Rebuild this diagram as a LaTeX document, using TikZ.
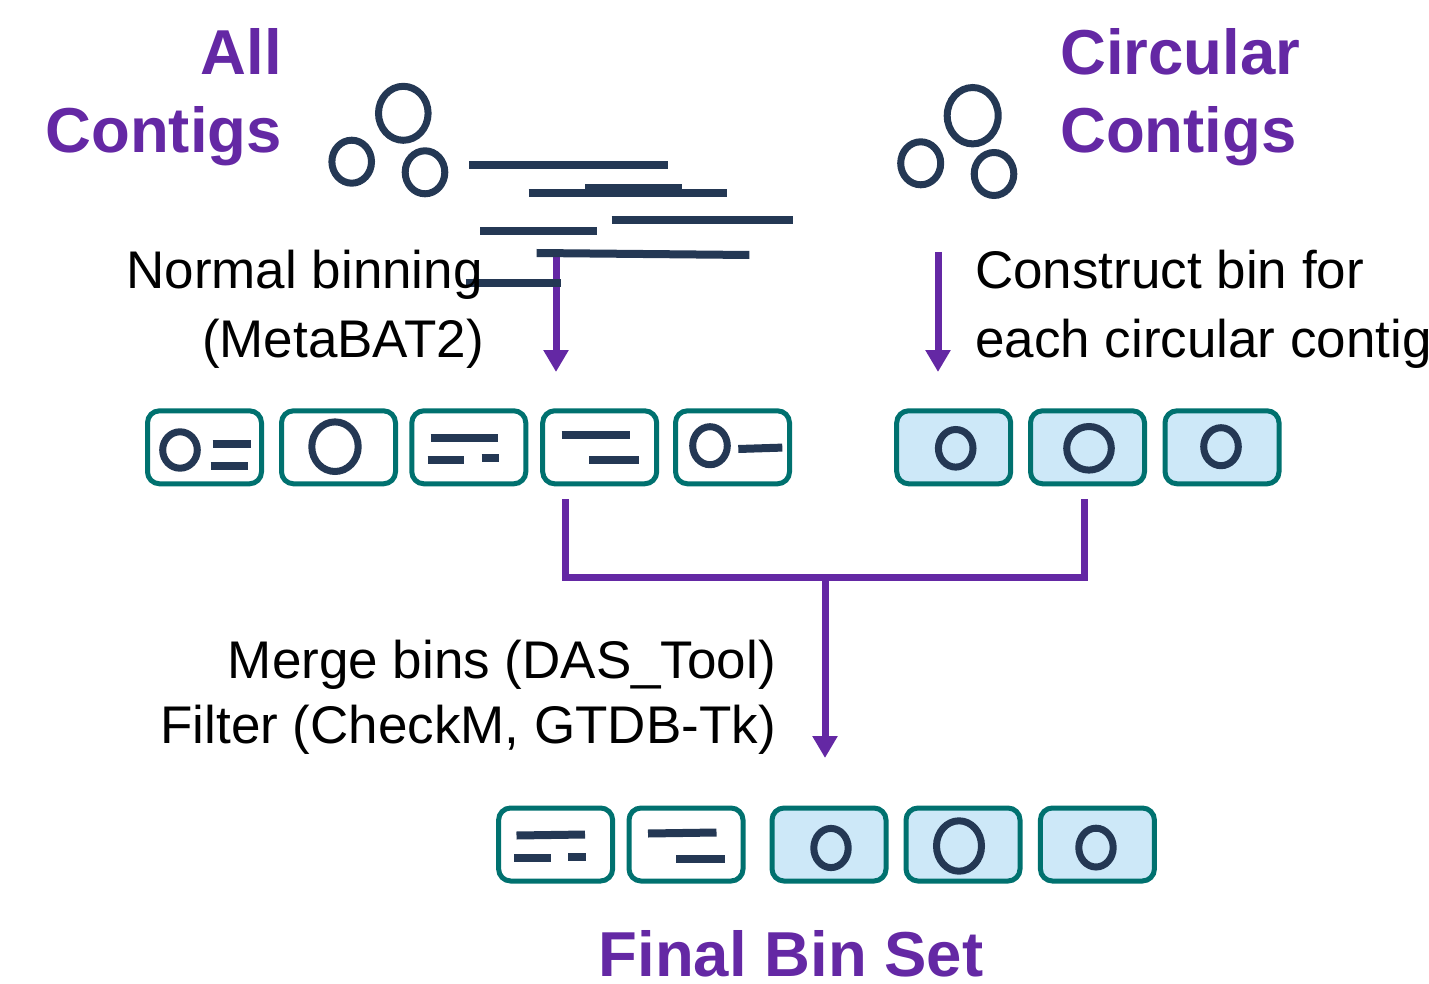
\documentclass[tikz,border=0pt]{standalone}
\usepackage{fontspec}
\setmainfont{Liberation Sans}
\usetikzlibrary{arrows.meta}

\definecolor{binpurple}{HTML}{6428A4}
\definecolor{contignavy}{HTML}{243854}
\definecolor{binteal}{HTML}{00716F}
\definecolor{binblue}{HTML}{CDE8F8}

\tikzset{
  binbox/.style={draw=binteal, line width=5pt, rounded corners=12pt,
    minimum width=114pt, minimum height=73pt, inner sep=0pt, fill=white},
  circbox/.style={binbox, fill=binblue},
  ring/.style={draw=contignavy, line width=7pt},
  contig/.style={draw=contignavy, line width=8pt},
  flow/.style={draw=binpurple, line width=7pt},
  flowshadow/.style={draw=black, opacity=0.12, line width=7pt},
  flowarrow/.style={flow, -{Triangle[width=24pt,length=22pt]}},
  heading/.style={font=\fontsize{63.5}{70}\selectfont\bfseries, text=binpurple, inner sep=0pt},
  caption/.style={font=\fontsize{53}{60}\selectfont, text=black, inner sep=0pt}
}

\begin{document}
\begin{tikzpicture}[x=1pt, y=-1pt]
\useasboundingbox (0,0) rectangle (1429,984);

% ---------- headings ----------
\node[heading, anchor=base east] (allA) at (282,75) {All};
\node[heading, anchor=base east] (allB) at (282,153) {Contigs};
\node[heading, anchor=base west] (circA) at (1060,75) {Circular};
\node[heading, anchor=base west] (circB) at (1060,153) {Contigs};

% ---------- flow arrows from the contigs to the bins ----------
\coordinate (nbTop) at (556,256);
\coordinate (nbEnd) at (556,372);
\coordinate (cbTop) at (938,252);
\coordinate (cbEnd) at (938,372);
\draw[flowarrow] (nbTop) -- (nbEnd);
\draw[flowarrow] (cbTop) -- (cbEnd);

% ---------- all contigs: circles and linear pieces ----------
\draw[ring] (403.3,113.3) ellipse [x radius=24.8, y radius=27];
\draw[ring] (351.7,161.7) ellipse [x radius=19.8, y radius=21.5];
\draw[ring] (425,172.3) ellipse [x radius=19.8, y radius=21.5];

\draw[contig] (469,165) -- (667.7,165);
\draw[contig] (528.7,192.7) -- (727.3,192.7);
\draw[contig] (585,188) -- (681.7,188);
\draw[contig] (611.7,220) -- (793.3,220);
\draw[contig] (480.3,231) -- (597.3,231);
\draw[contig] (536.7,253) -- (749.3,255);
\draw[contig] (465.7,282.7) -- (561,282.7);

% ---------- circular contigs ----------
\draw[ring] (972.7,115.7) ellipse [x radius=25.5, y radius=28.2];
\draw[ring] (920.7,163.3) ellipse [x radius=20, y radius=21.5];
\draw[ring] (994,174) ellipse [x radius=19.8, y radius=21.5];

% ---------- step captions ----------
\node[caption, anchor=base east] (nb1) at (483,288) {Normal binning};
\node[caption, anchor=base east] (nb2) at (484,357) {(MetaBAT2)};
\node[caption, anchor=base west] (cb1) at (975,288) {Construct bin for};
\node[caption, anchor=base west] (cb2) at (975,357) {each circular contig};

% ---------- bins from normal binning ----------
\node[binbox] (b1) at (204.5,447.3) {};
\node[binbox] (b2) at (338.5,447.3) {};
\node[binbox] (b3) at (468.8,447.3) {};
\node[binbox] (b4) at (599.7,447.3) {};
\node[binbox] (b5) at (732.5,447.3) {};

\draw[ring] (180,450) ellipse [x radius=17.3, y radius=18.2];
\draw[contig] (212.7,444) -- (250.7,444);
\draw[contig] (210.7,465.7) -- (247.7,465.7);

\draw[ring] (335,446.7) ellipse [x radius=23.2, y radius=24.8];

\draw[contig] (430.7,438.3) -- (498.3,438.3);
\draw[contig] (427.7,460.3) -- (464,460.3);
\draw[contig] (481.7,458.3) -- (499.3,458.3);

\draw[contig] (561.7,435) -- (630,435);
\draw[contig] (589.3,460) -- (638.7,460);

\draw[ring] (710,445.7) ellipse [x radius=17.3, y radius=19];
\draw[contig] (738.3,449) -- (782.3,447.6);

% ---------- bins from circular contigs ----------
\node[circbox] (c1) at (953.7,447.3) {};
\node[circbox] (c2) at (1087.5,447.3) {};
\node[circbox] (c3) at (1222,447.3) {};

\draw[ring] (955.7,448.3) ellipse [x radius=17.3, y radius=18.8];
\draw[ring] (1089,448.3) ellipse [x radius=22.3, y radius=21.8];
\draw[ring] (1221,446.7) ellipse [x radius=17.3, y radius=19];

% ---------- merge connector ----------
\coordinate (mL) at (565,499);
\coordinate (mR) at (1084,499);
\coordinate (mLj) at (565,577);
\coordinate (mRj) at (1084,577);
\coordinate (mC) at (825,577);
\coordinate (mEnd) at (825,758);
\draw[flowshadow, line join=miter, xshift=2pt, yshift=-3pt] (mL) -- (mLj) -- (mRj) -- (mR);
\draw[flow, line join=miter] (mL) -- (mLj) -- (mRj) -- (mR);
\draw[flowarrow] (mC) -- (mEnd);

\node[caption, anchor=base east] (mg1) at (776,678) {Merge bins (DAS\_Tool)};
\node[caption, anchor=base east] (mg2) at (776,743) {Filter (CheckM, GTDB-Tk)};

% ---------- final bin set ----------
\node[binbox] (f1) at (555.6,844.5) {};
\node[binbox] (f2) at (686,844.5) {};
\node[circbox] (f3) at (829,844.5) {};
\node[circbox] (f4) at (963,844.5) {};
\node[circbox] (f5) at (1097.4,844.5) {};

\draw[contig] (516.5,835.5) -- (585,834.5);
\draw[contig] (514,858) -- (551,858);
\draw[contig] (568,857) -- (586,857);

\draw[contig] (648,833.5) -- (716.5,832.5);
\draw[contig] (676,859) -- (725,859);

\draw[ring] (831,848) ellipse [x radius=17.2, y radius=19.6];
\draw[ring] (959,846) ellipse [x radius=22.5, y radius=25.2];
\draw[ring] (1096,847.6) ellipse [x radius=17.2, y radius=19.4];

\node[heading, anchor=base] (final) at (791,976) {Final Bin Set};
\end{tikzpicture}
\end{document}
